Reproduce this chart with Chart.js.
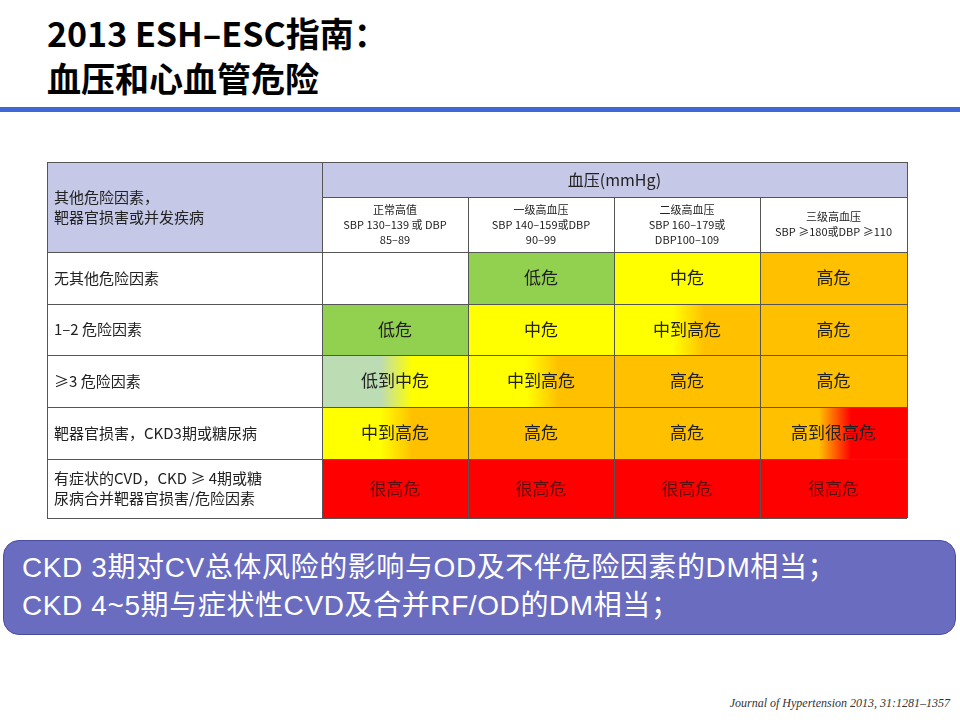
<!DOCTYPE html>
<html><head><meta charset="utf-8">
<script src="https://cdn.jsdelivr.net/npm/chart.js@4.4.0/dist/chart.umd.min.js"></script>
<style>
body{margin:0;width:960px;height:720px;position:relative;background:#fff;font-family:"Noto Sans CJK SC","Liberation Sans",sans-serif;overflow:hidden}
#title{position:absolute;left:47px;top:10px;font-size:34px;font-weight:bold;line-height:45px;color:#000}
#rule{position:absolute;left:0;top:107px;width:960px;height:5px;background:#3f67d6}
#wrap{position:absolute;left:46px;top:161px;width:862px;height:358px}
#note{position:absolute;left:3px;top:540px;width:953px;height:95px;border-radius:16px;background:#6a6cc0;border:1px solid #4b4e9e;box-sizing:border-box;color:#fff;font-family:"Liberation Sans","Noto Sans CJK SC",sans-serif;font-size:28px;letter-spacing:0.6px;line-height:38px;padding:8px 0 0 18px;white-space:nowrap}
#cite{position:absolute;right:10px;top:696px;font-family:"Liberation Serif",serif;font-style:italic;font-size:12px;color:#333}
</style></head><body>
<div id="title">2013 ESH–ESC指南：<br>血压和心血管危险</div>
<div id="rule"></div>
<div id="wrap"><canvas id="chart"></canvas></div>
<div id="note">CKD 3期对CV总体风险的影响与OD及不伴危险因素的DM相当；<br>CKD 4~5期与症状性CVD及合并RF/OD的DM相当；</div>
<div id="cite">Journal of Hypertension 2013, 31:1281–1357</div>
<script>
// table content
const cornerLabel = ['其他危险因素，', '靶器官损害或并发疾病'];
const bpHeader = '血压(mmHg)';
const bpGrades = [
  ['正常高值', 'SBP 130–139 或 DBP', '85–89'],
  ['一级高血压', 'SBP 140–159或DBP', '90–99'],
  ['二级高血压', 'SBP 160–179或', 'DBP100–109'],
  ['三级高血压', 'SBP ≥180或DBP ≥110'],
];
const riskFactors = [
  ['无其他危险因素'],
  ['1–2 危险因素'],
  ['≥3 危险因素'],
  ['靶器官损害，CKD3期或糖尿病'],
  ['有症状的CVD，CKD ≥ 4期或糖', '尿病合并靶器官损害/危险因素'],
];
const riskGrid = [
  ['', '低危', '中危', '高危'],
  ['低危', '中危', '中到高危', '高危'],
  ['低到中危', '中到高危', '高危', '高危'],
  ['中到高危', '高危', '高危', '高到很高危'],
  ['很高危', '很高危', '很高危', '很高危'],
];

// layout (grid edges in scale units)
const xEdges = [0, 275, 421, 567, 713, 860];
const yEdges = [0, 35, 90, 142, 193, 245, 297, 356];
const fills = { '低': '#92d050', '中': '#ffff00', '高': '#ffc000', '很高': '#ff0000', '低start': '#bcdcb4' };
const headerFill = '#c5c8e6';

function riskColors(label) {
  if (!label) return null;
  const m = label.match(/^(低|中|高)到(很高|中|高)危$/);
  if (m) return [m[1] === '低' ? fills['低start'] : fills[m[1]], fills[m[2]]];
  const k = label.replace('危', '');
  return [fills[k], fills[k]];
}

const cellPlugin = {
  id: 'cells',
  beforeDatasetsDraw(chart) {
    const ctx = chart.ctx, xs = chart.scales.x, ys = chart.scales.y;
    const X = v => xs.getPixelForValue(v), Y = v => ys.getPixelForValue(v);
    const rect = (c0, c1, r0, r1) => [X(xEdges[c0]), Y(yEdges[r0]), X(xEdges[c1]) - X(xEdges[c0]), Y(yEdges[r1]) - Y(yEdges[r0])];
    const text = (lines, x, y, size, color, align) => {
      ctx.fillStyle = color; ctx.font = size + 'px "Noto Sans CJK SC", "Liberation Sans", sans-serif';
      ctx.textAlign = align || 'center'; ctx.textBaseline = 'middle';
      const lh = size * 1.35;
      lines.forEach((l, i) => ctx.fillText(l, x, y + (i - (lines.length - 1) / 2) * lh));
    };
    ctx.save();
    // header fills
    let r = rect(0, 1, 0, 2); ctx.fillStyle = headerFill; ctx.fillRect(...r);
    r = rect(1, 5, 0, 1); ctx.fillRect(...r);
    // risk cells
    riskGrid.forEach((row, i) => row.forEach((label, j) => {
      const cols = riskColors(label);
      const [x, y, w, h] = rect(j + 1, j + 2, i + 2, i + 3);
      if (cols) {
        const g = ctx.createLinearGradient(x, 0, x + w, 0);
        g.addColorStop(0, cols[0]); g.addColorStop(0.4, cols[0]); g.addColorStop(0.62, cols[1]); g.addColorStop(1, cols[1]);
        ctx.fillStyle = g; ctx.fillRect(x, y, w, h);
        text([label], x + w / 2, y + h / 2, 17, label === '很高危' ? '#5a1010' : '#222');
      }
    }));
    // grid lines
    ctx.strokeStyle = '#555'; ctx.lineWidth = 1;
    const hl = (row, c0, c1) => { ctx.beginPath(); ctx.moveTo(X(xEdges[c0]), Math.round(Y(yEdges[row])) + 0.5); ctx.lineTo(X(xEdges[c1]), Math.round(Y(yEdges[row])) + 0.5); ctx.stroke(); };
    const vl = (col, r0, r1) => { ctx.beginPath(); ctx.moveTo(Math.round(X(xEdges[col])) + 0.5, Y(yEdges[r0])); ctx.lineTo(Math.round(X(xEdges[col])) + 0.5, Y(yEdges[r1])); ctx.stroke(); };
    yEdges.forEach((_, k) => hl(k, k === 1 ? 1 : 0, 5));
    xEdges.forEach((_, k) => vl(k, k >= 2 && k <= 4 ? 1 : 0, yEdges.length - 1));
    // header text
    let [x, y, w, h] = rect(0, 1, 0, 2);
    text(cornerLabel, x + 7, y + h / 2, 15, '#222', 'left');
    [x, y, w, h] = rect(1, 5, 0, 1);
    text([bpHeader], x + w / 2, y + h / 2, 16, '#222');
    bpGrades.forEach((lines, j) => {
      [x, y, w, h] = rect(j + 1, j + 2, 1, 2);
      text(lines, x + w / 2, y + h / 2, 11, '#222');
    });
    riskFactors.forEach((lines, i) => {
      [x, y, w, h] = rect(0, 1, i + 2, i + 3);
      text(lines, x + 7, y + h / 2, 15, '#222', 'left');
    });
    ctx.restore();
  }
};

new Chart(document.getElementById('chart'), {
  type: 'scatter',
  data: { datasets: [{ data: [], pointRadius: 0 }] },
  options: {
    responsive: true, maintainAspectRatio: false, animation: false,
    layout: { padding: 1 },
    scales: {
      x: { type: 'linear', min: xEdges[0], max: xEdges[xEdges.length - 1], display: false },
      y: { type: 'linear', min: yEdges[0], max: yEdges[yEdges.length - 1], reverse: true, display: false },
    },
    plugins: { legend: { display: false }, tooltip: { enabled: false } },
  },
  plugins: [cellPlugin],
});
</script>
</body></html>
